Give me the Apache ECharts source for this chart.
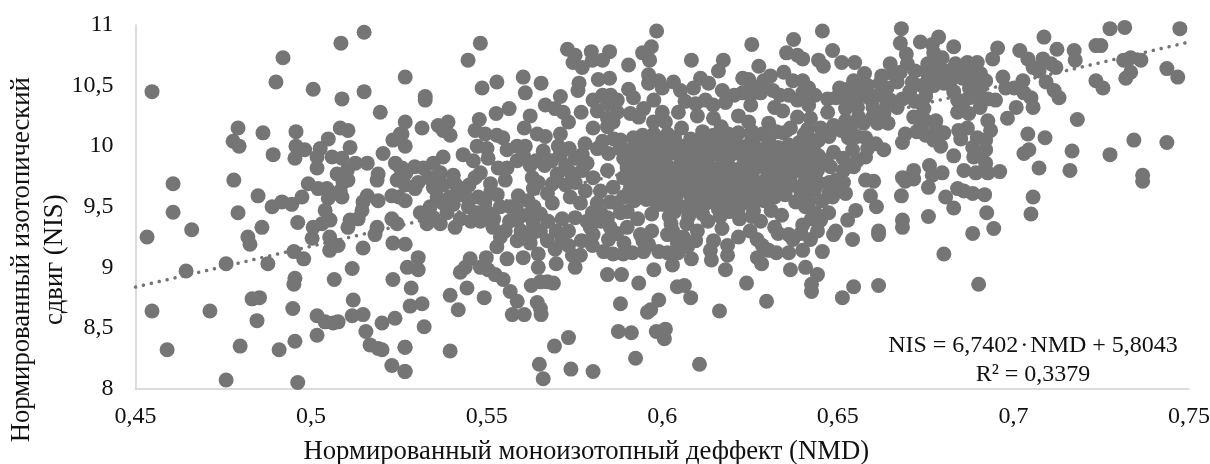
<!DOCTYPE html>
<html><head><meta charset="utf-8">
<script src="https://cdn.jsdelivr.net/npm/echarts@6/dist/echarts.min.js"></script>
<style>html,body{margin:0;padding:0;background:#fff}#c{width:1210px;height:464px}</style></head>
<body><div id="c"></div>
<script>
const xTicks=[0.45,0.5,0.55,0.6,0.65,0.7,0.75];
const trendX=[0.45,0.75];
const trendY=[8.837,10.859];
const equationText='NIS = 6,7402\u200a·\u200aNMD + 5,8043';
const r2Text='R² = 0,3379';
const pointsLeft=[[.4547,10.45],[.4607,9.69],[.4607,9.455],[.466,9.31],[.4533,9.25],[.4547,8.64],[.459,8.32],[.4644,8.97],[.4712,8.64],[.4758,9.03],[.4758,8.07],[.478,9.72],[.4792,9.45],[.4792,10.15],[.4778,10.04],[.4795,10],[.4798,8.35],[.482,9.25],[.4826,9.19],[.4832,8.74],[.4853,8.75],[.4846,8.56],[.4849,9.59],[.486,9.33],[.4863,10.11],[.4892,9.93],[.4877,9.03],[.4909,8.32],[.49,10.53],[.492,10.73],[.4889,9.5],[.4917,9.54],[.4945,9.52],[.4974,9.58],[.4962,9.37],[.4957,10.12],[.4957,10],[.4982,9.97],[.4954,9.9],[.4951,9.13],[.4979,9.07],[.4954,8.91],[.4951,8.86],[.4948,8.66],[.4954,8.39],[.4962,8.05],[.5017,8.44],[.5017,8.6],[.504,8.55],[.5063,8.54],[.5077,8.55],[.5117,8.6],[.5148,8.61],[.512,8.73],[.5066,8.9],[.5117,8.99],[.5156,8.47],[.5202,8.54],[.5168,8.36],[.5191,8.33],[.5202,8.32],[.523,8.19],[.5267,8.14],[.5239,8.58],[.5267,8.34],[.5003,9.24],[.5053,9.25],[.5053,9.14],[.5077,9.18],[.5148,9.16],[.5233,8.9],[.5083,10.15],[.5105,10.13],[.5049,10.06],[.5111,9.99],[.5026,9.98],[.5017,9.91],[.506,9.91],[.5088,9.9],[.5017,9.82],[.5126,9.86],[.516,9.86],[.5074,9.77],[.5103,9.8],[.5091,9.7],[.5105,9.72],[.5191,9.77],[.5188,9.72],[.5205,9.94],[.524,9.86],[.5233,10.05],[.5254,10.1],[.5197,10.28],[.5151,10.45],[.5088,10.39],[.5006,10.47],[.5085,10.85],[.5151,10.94],[.4992,9.69],[.502,9.65],[.5045,9.65],[.5049,9.57],[.5088,9.58],[.5083,9.63],[.516,9.59],[.5148,9.54],[.5191,9.55],[.523,9.59],[.525,9.58],[.5145,9.47],[.504,9.47],[.5054,9.39],[.5006,9.33],[.5031,9.36],[.5111,9.39],[.5134,9.4],[.5105,9.33],[.5188,9.33],[.523,9.4],[.5245,9.36],[.5254,9.82],[.5182,9.27],[.5233,9.2]];
const pointsMidLeft=[[.5268,10.57],[.5325,10.41],[.5325,10.38],[.5268,10.2],[.5316,10.15],[.5362,10.17],[.539,10.2],[.5396,10.09],[.5376,10.13],[.5268,10],[.5259,10.1],[.5433,9.93],[.5376,9.91],[.5348,9.86],[.5259,9.82],[.5405,9.76],[.5348,9.74],[.5305,9.7],[.5268,9.68],[.5296,9.65],[.5348,9.66],[.5376,9.68],[.541,9.69],[.5359,9.58],[.5396,9.58],[.5425,9.65],[.5268,9.55],[.5439,9.59],[.5339,9.5],[.5376,9.53],[.5311,9.45],[.5348,9.41],[.5387,9.45],[.533,9.36],[.5368,9.36],[.541,9.33],[.5425,9.4],[.5268,9.19],[.5305,9.08],[.5274,9],[.5305,8.98],[.5285,8.83],[.5282,8.68],[.5316,8.7],[.5322,8.51],[.5268,8.34],[.5268,8.14],[.5396,8.77],[.5419,8.65],[.5396,8.31],[.5444,8.83],[.5493,8.75],[.5425,8.96],[.5453,9.07],[.5439,9],[.5482,9],[.5499,9.08],[.5504,8.98],[.5524,8.94],[.5547,8.9],[.5567,8.8],[.5587,8.72],[.5573,8.61],[.5607,8.61],[.5644,8.71],[.5653,8.66],[.5655,8.61],[.5627,8.85],[.5653,8.88],[.5673,8.88],[.569,8.87],[.5647,9],[.5698,9.03],[.5752,9],[.5744,9.1],[.5767,9.1],[.5733,9.18],[.5529,9.17],[.5558,9.07],[.5604,9.08],[.5647,9.11],[.5539,9.25],[.5587,9.22],[.5624,9.2],[.5673,9.22],[.5482,10.85],[.5447,10.71],[.5487,10.48],[.5529,10.53],[.5604,10.57],[.5655,10.52],[.561,10.44],[.5527,10.27],[.5564,10.31],[.5479,10.22],[.5467,10.13],[.5496,10.1],[.5624,10.25],[.5607,10.15],[.5667,10.34],[.571,10.41],[.5695,10.31],[.5718,10.28],[.5733,10.2],[.5769,10.28],[.5763,10.52],[.576,10.46],[.5546,10.07],[.5644,10.1],[.5667,10.08],[.571,10.1],[.5704,10],[.5661,9.96],[.571,9.93],[.5473,10],[.5501,9.98],[.5504,9.9],[.5558,9.97],[.5587,10],[.561,10],[.5529,10.09],[.5482,9.78],[.5467,9.74],[.5533,9.82],[.5587,9.88],[.5558,9.82],[.5624,9.84],[.563,9.74],[.5633,9.65],[.5618,9.55],[.5647,9.7],[.5701,9.77],[.5687,9.69],[.5673,9.61],[.5687,9.53],[.5653,9.44],[.5616,9.43],[.5587,9.39],[.5633,9.36],[.5715,9.4],[.5553,9.72],[.5511,9.69],[.5511,9.62],[.5476,9.58],[.5473,9.45],[.5504,9.45],[.5539,9.5],[.5567,9.5],[.559,9.59],[.5482,9.38],[.5518,9.33],[.5553,9.3],[.5598,9.3],[.5653,9.3],[.5698,9.3],[.5733,9.3]];
const pointsMid=[[.573,10.8],[.5752,10.75],[.5746,10.69],[.5772,10.65],[.5798,10.78],[.5801,10.71],[.583,10.71],[.585,10.78],[.5818,10.55],[.585,10.56],[.5803,10.38],[.583,10.42],[.5853,10.42],[.5872,10.38],[.5815,10.29],[.5844,10.35],[.5872,10.28],[.5844,10.23],[.5844,10.16],[.586,10.2],[.5803,10.15],[.5904,10.67],[.5904,10.47],[.5918,10.4],[.5944,10.77],[.5969,10.82],[.5964,10.71],[.5984,10.95],[.5961,10.59],[.5961,10.52],[.599,10.54],[.5976,10.38],[.5947,10.31],[.5909,10.27],[.5933,10.24],[.6,10.48],[.6032,10.53],[.6052,10.46],[.6046,10.28],[.6009,10.2],[.6083,10.71],[.6089,10.48],[.6109,10.56],[.6132,10.52],[.6095,10.35],[.6123,10.38],[.61,10.25],[.6174,10.71],[.616,10.62],[.6171,10.46],[.618,10.36],[.6146,10.23],[.6168,10.16],[.6255,10.84],[.6275,10.66],[.6229,10.56],[.6246,10.55],[.6229,10.44],[.6258,10.44],[.6252,10.34],[.6217,10.25],[.6246,10.2],[.6303,10.19],[.632,10.32],[.6343,10.29],[.6289,10.54],[.6308,10.58],[.6346,10.61],[.6374,10.88],[.6354,10.77],[.6385,10.75],[.6372,10.54],[.636,10.42],[.6385,10.38],[.6346,10.11],[.6385,10.24],[.5752,9.9],[.5772,9.93],[.5815,9.98],[.5847,9.94],[.5881,10.05],[.5918,10.07],[.5944,10.09],[.59,9.84],[.5976,10.1],[.6015,10.1],[.6081,10.06],[.6217,10.11],[.6188,10.1],[.6146,10.09],[.6303,10.04],[.5738,9.58],[.5752,9.7],[.5786,9.86],[.5772,9.8],[.5803,9.74],[.5844,9.8],[.5781,9.63],[.5824,9.63],[.586,9.66],[.5767,9.53],[.5815,9.53],[.5852,9.54],[.5881,9.45],[.5844,9.41],[.5801,9.45],[.5752,9.41],[.5795,9.33],[.5852,9.33],[.5801,9.18],[.5833,9.13],[.586,9.11],[.5891,9.2],[.5847,9.23],[.5889,9.11],[.5803,9.27],[.5844,8.94],[.5884,8.94],[.5933,8.87],[.5976,8.98],[.5947,9.13],[.5961,9.19],[.6029,9.02],[.6083,9.07],[.6043,8.84],[.6063,8.85],[.6081,8.75],[.5881,8.7],[.599,8.73],[.5967,8.65],[.5958,8.63],[.6163,8.64],[.624,8.87],[.6297,8.72],[.618,8.98],[.614,9.06],[.6137,9.14],[.6186,9.1],[.6186,9.18],[.6095,9.22],[.6146,9.22],[.6217,9.25],[.6271,9.08],[.6283,9.03],[.6303,9.14],[.6365,8.98],[.6372,9.23],[.5875,8.47],[.5912,8.46],[.5983,8.47],[.6009,8.49],[.6006,8.41],[.5924,8.25],[.5693,8.35],[.5733,8.42],[.565,8.2],[.5661,8.08],[.574,8.16],[.5803,8.14],[.6106,8.2],[.6043,9.2],[.6015,9.27],[.606,9.25],[.5938,9.27]];
const pointsCore=[[.588,9.98],[.591,9.97],[.594,9.99],[.597,10.02],[.6,10.0],[.603,10.03],[.606,10],[.609,10.02],[.612,9.99],[.615,10.01],[.618,10.0],[.621,10.03],[.624,10],[.627,9.98],[.63,9.96],[.633,9.99],[.636,10.01],[.639,10.03],[.642,10.06],[.589,9.9],[.592,9.91],[.595,9.88],[.598,9.93],[.601,9.91],[.604,9.94],[.607,9.9],[.61,9.92],[.613,9.9],[.616,9.93],[.619,9.91],[.622,9.94],[.625,9.9],[.629,9.89],[.632,9.88],[.635,9.91],[.638,9.92],[.641,9.9],[.59,9.82],[.593,9.84],[.596,9.81],[.599,9.85],[.602,9.82],[.605,9.84],[.608,9.82],[.611,9.85],[.614,9.82],[.617,9.84],[.62,9.81],[.623,9.84],[.626,9.8],[.63,9.78],[.633,9.8],[.636,9.82],[.639,9.8],[.642,9.78],[.589,9.74],[.592,9.75],[.595,9.73],[.598,9.76],[.601,9.73],[.604,9.75],[.607,9.74],[.61,9.76],[.613,9.73],[.616,9.75],[.619,9.72],[.622,9.75],[.625,9.72],[.628,9.7],[.631,9.72],[.634,9.7],[.637,9.68],[.591,9.67],[.594,9.68],[.597,9.65],[.6,9.68],[.603,9.66],[.606,9.68],[.609,9.66],[.612,9.68],[.615,9.65],[.618,9.67],[.621,9.64],[.624,9.66],[.627,9.63],[.595,9.6],[.598,9.58],[.601,9.61],[.604,9.59],[.608,9.6],[.611,9.58],[.614,9.6],[.617,9.57],[.62,9.58],[.592,9.55],[.589,9.58],[.6,9.52],[.603,9.53],[.609,9.5],[.612,9.52],[.623,9.53],[.616,9.48],[.619,9.46],[.626,9.47],[.629,9.55],[.632,9.58],[.635,9.6],[.638,9.54],[.631,9.47],[.634,9.43],[.628,9.38],[.622,9.4],[.613,9.38],[.607,9.36],[.602,9.42],[.597,9.44],[.593,9.4],[.59,9.33],[.597,9.3],[.603,9.3],[.61,9.3],[.617,9.32],[.625,9.3],[.632,9.33],[.64,9.35],[.636,9.27]];
const pointsCoreExtra=[[.5905,9.62],[.5935,9.62],[.5965,9.7],[.5995,9.8],[.6025,9.78],[.6055,9.8],[.6085,9.78],[.6115,9.8],[.6145,9.78],[.6175,9.78],[.6205,9.77],[.6235,9.78],[.6285,9.84],[.6315,9.84],[.6345,9.86],[.6375,9.86],[.6405,9.84],[.6435,9.85],[.6405,9.7],[.6435,9.65],[.6395,9.62],[.6365,9.75],[.6345,9.76],[.6315,9.65],[.6285,9.62],[.6255,9.6],[.6225,9.6],[.6225,9.7],[.6195,9.62],[.6165,9.62],[.6135,9.63],[.6105,9.63],[.6075,9.64],[.6045,9.64],[.6015,9.65],[.5985,9.62],[.5955,9.56],[.5985,9.52],[.6035,9.46],[.6065,9.5],[.6145,9.54],[.6175,9.52],[.6205,9.52],[.6255,9.54],[.5915,9.78],[.5945,9.78],[.5935,9.95],[.5965,9.95],[.5995,9.96],[.6025,9.96],[.6055,9.96],[.6085,9.96],[.6115,9.95],[.6145,9.96],[.6175,9.96],[.6205,9.97],[.6235,9.96],[.6265,9.93],[.6295,9.94],[.6325,9.94],[.6355,9.96],[.6385,9.97],[.6415,9.97],[.5985,10.06],[.6035,10.07],[.6115,10.06],[.6155,10.05],[.6195,10.05],[.6255,10.07]];
const pointsRight=[[.6456,10.95],[.6485,10.79],[.6445,10.71],[.6459,10.66],[.6511,10.69],[.6548,10.69],[.6576,10.6],[.6545,10.54],[.6528,10.47],[.6565,10.49],[.64,10.72],[.64,10.54],[.6417,10.48],[.6471,10.39],[.6417,10.34],[.6471,10.28],[.6522,10.31],[.6556,10.32],[.6588,10.4],[.6422,10.23],[.6649,10.68],[.6681,10.97],[.6678,10.85],[.6695,10.76],[.6698,10.68],[.6678,10.61],[.6712,10.53],[.6669,10.53],[.664,10.48],[.6684,10.39],[.6649,10.38],[.6669,10.32],[.6631,10.27],[.6599,10.24],[.6559,10.24],[.6522,10.21],[.6488,10.17],[.6451,10.15],[.6414,10.14],[.6643,10.19],[.6573,10.19],[.6613,10.19],[.6536,10.15],[.653,10.07],[.6579,10.07],[.6608,10.02],[.6631,9.97],[.6431,10],[.6488,9.95],[.6542,9.97],[.6579,9.91],[.64,9.91],[.6445,9.92],[.6403,9.8],[.6442,9.8],[.6479,9.83],[.6516,9.8],[.6545,9.83],[.6516,9.7],[.6522,9.61],[.6485,9.58],[.6422,9.62],[.6417,9.54],[.6502,9.65],[.6445,9.7],[.6579,9.72],[.6602,9.71],[.6593,9.59],[.661,9.5],[.6551,9.47],[.6528,9.39],[.6474,9.45],[.6451,9.39],[.6436,9.45],[.6408,9.5],[.6616,9.3],[.6494,9.3],[.6442,9.3],[.6684,9.39],[.6684,9.33],[.6681,9.59],[.6684,9.74],[.6716,9.8],[.6716,9.73],[.6692,9.71],[.6761,9.84],[.6797,9.78],[.6769,9.76],[.6758,9.66],[.6807,9.58],[.683,9.49],[.6758,9.42],[.6692,10.1],[.6684,10.03],[.6716,10.24],[.675,10.21],[.6779,10.21],[.675,10.09],[.6779,10.15],[.6802,10.11],[.6773,10.05],[.6793,10],[.6745,10.31],[.675,10.41],[.6756,10.48],[.6758,10.56],[.6784,10.56],[.6802,10.52],[.6773,10.5],[.6756,10.68],[.6784,10.71],[.6735,10.86],[.6769,10.84],[.6787,10.9],[.683,10.82],[.6773,10.77],[.6797,10.73],[.6841,10.62],[.6821,10.54],[.6869,10.69],[.6897,10.69],[.6878,10.62],[.6906,10.6],[.6897,10.52],[.6869,10.56],[.6921,10.54],[.6955,10.81],[.6941,10.72],[.697,10.57],[.6906,10.4],[.6949,10.38],[.6927,10.39],[.6841,10.38],[.6841,10.28],[.6873,10.27],[.6927,10.21],[.6935,10.13],[.6869,10.15],[.6844,10.13],[.685,10.06],[.6897,10.07],[.6921,10.05],[.683,9.92],[.6859,9.8],[.6884,9.99],[.6921,9.97],[.6887,9.91],[.6921,9.86],[.6893,9.78],[.6927,9.78],[.6961,9.79],[.6906,9.93],[.6841,9.65],[.6859,9.63],[.6884,9.61],[.6918,9.6],[.6924,9.45],[.6884,9.28],[.6944,9.32],[.6983,10.23],[.7008,10.32],[.6978,10.48],[.7027,10.54],[.7002,10.48],[.703,10.44],[.705,10.4],[.7056,10.32],[.7018,10.79],[.7041,10.72],[.7056,10.65],[.7073,10.62],[.7087,10.9],[.7124,10.8],[.7084,10.72],[.7107,10.68],[.7121,10.65],[.7093,10.53],[.7116,10.46],[.713,10.4],[.7173,10.79],[.7176,10.71],[.7182,10.22],[.7041,10.1],[.709,10.07],[.703,9.94],[.7044,9.97],[.7167,9.96],[.7161,9.8],[.7073,9.82],[.7056,9.58],[.705,9.44],[.7275,9.93],[.7343,10.05],[.7437,10.03],[.7368,9.76],[.7368,9.71],[.7235,10.83],[.7249,10.83],[.7275,10.97],[.7317,10.98],[.7474,10.97],[.7235,10.54],[.7255,10.48],[.7314,10.71],[.7334,10.73],[.7363,10.71],[.7334,10.61],[.732,10.56],[.7437,10.64],[.7468,10.57],[.6422,9.23],[.6456,9.13],[.64,9.14],[.6408,9],[.6442,8.94],[.6425,8.86],[.6425,8.8],[.6513,8.75],[.6545,8.84],[.6616,8.85],[.6901,8.86],[.6802,9.11],[.6542,9.23],[.6488,9.27],[.6616,9.27]];
const pointsFill=[[.5245,9.72],[.527,9.78],[.5295,9.83],[.532,9.82],[.5335,9.74],[.5368,9.78],[.5415,9.6],[.545,9.68],[.5462,9.88],[.5448,9.5],[.5405,9.52],[.5455,9.38],[.5495,9.55],[.553,9.6],[.5605,9.92],[.564,9.88],[.5665,9.84],[.5685,9.88],[.5725,9.84],[.574,9.78],[.5735,9.98],[.578,10.02],[.583,10.04],[.5862,10.06],[.5725,9.68],[.5635,9.5],[.5585,9.48],[.552,9.4],[.5565,9.38],[.5605,9.25],[.563,9.28],[.5675,9.38],[.5695,9.15],[.5715,9.22],[.577,9.22],[.5785,9.38],[.5825,9.38],[.5825,9.45],[.587,9.53],[.59,9.46],[.587,9.28],[.5915,9.12],[.5945,9.22],[.599,9.13],[.6015,9.12],[.6045,9.12],[.6072,9.17],[.6025,9.36],[.6075,9.42],[.6115,9.44],[.6165,9.42],[.6215,9.46],[.6255,9.42],[.633,9.28],[.627,9.23],[.6285,9.18],[.6325,9.12],[.636,9.12],[.6395,9.28],[.6425,9.4],[.6455,9.55],[.6475,9.62],[.6495,9.72],[.6475,9.7],[.6465,9.88],[.6515,9.9],[.6555,9.88],[.6585,9.98],[.6555,10.08],[.651,10.13],[.6475,10.08],[.6445,10.05],[.6405,10.1],[.6365,10.15],[.6325,10.12],[.6285,10.1],[.6255,10.12],[.6115,10.12],[.6055,10.15],[.6,10.28],[.5975,10.2],[.6065,10.37],[.6145,10.34],[.6205,10.42],[.6255,10.5],[.628,10.44],[.6335,10.42],[.6315,10.46],[.64,10.44],[.6435,10.42],[.6495,10.4],[.6505,10.48],[.6525,10.38],[.656,10.42],[.66,10.32],[.6615,10.42],[.664,10.35],[.6585,10.5],[.662,10.52],[.6655,10.6],[.6625,10.58],[.6705,10.45],[.672,10.37],[.674,10.5],[.672,10.62],[.675,10.62],[.679,10.63],[.6815,10.62],[.6835,10.68],[.6855,10.56],[.6875,10.48],[.6905,10.48],[.6875,10.4],[.6905,10.32],[.6855,10.33],[.683,10.45],[.6725,10.12],[.6735,10.15]];
const scatterPoints=[...pointsLeft,...pointsMidLeft,...pointsMid,...pointsCore,...pointsCoreExtra,...pointsRight,...pointsFill];
const font='"Liberation Serif","Times New Roman",serif';
const chart=echarts.init(document.getElementById('c'));
chart.setOption({
  animation:false,backgroundColor:'#fff',
  grid:{left:135.5,right:21,top:25,bottom:75.5,outerBoundsMode:'none',containLabel:false},
  xAxis:{type:'value',min:0.45,max:0.75,interval:0.05,nameMoveOverlap:false,
    axisLine:{onZero:false,lineStyle:{color:'#d0d0d0',width:1.5}},axisTick:{show:false},splitLine:{show:false},
    axisLabel:{fontFamily:font,fontSize:24,color:'#111',margin:16,hideOverlap:false,
      formatter:v=>String(+v.toFixed(2)).replace('.',',')},
    name:'Нормированный моноизотопный деффект (NMD)',nameLocation:'middle',nameGap:50,
    nameTextStyle:{fontFamily:font,fontSize:26.7,color:'#111',padding:[0,152,0,0]}},
  yAxis:{type:'value',min:8,max:11,interval:0.5,nameMoveOverlap:false,
    axisLine:{show:true,onZero:false,lineStyle:{color:'#d0d0d0',width:1.5}},axisTick:{show:false},splitLine:{show:false},
    axisLabel:{fontFamily:font,fontSize:24,color:'#111',margin:22,
      formatter:v=>String(v).replace('.',',')},
    name:'Нормированный изотопический\nсдвиг (NIS)',nameLocation:'middle',nameGap:64,
    nameTextStyle:{fontFamily:font,fontSize:26.7,color:'#111',lineHeight:33,padding:[0,106,0,0]}},
  series:[
    {type:'scatter',data:scatterPoints,symbolSize:15,itemStyle:{color:'#757575',opacity:1},z:2,clip:false},
    {type:'line',data:trendX.map((x,i)=>[x,trendY[i]]),symbol:'none',z:3,
      lineStyle:{color:'#757575',width:3.5,type:[0.1,8],cap:'round'}}
  ],
  graphic:[
    {type:'text',x:1033,y:346,style:{text:equationText,font:'24px '+font,fill:'#111',textAlign:'center',textVerticalAlign:'middle'}},
    {type:'text',x:1033,y:375,style:{text:r2Text,font:'24px '+font,fill:'#111',textAlign:'center',textVerticalAlign:'middle'}}
  ]
});
</script></body></html>
